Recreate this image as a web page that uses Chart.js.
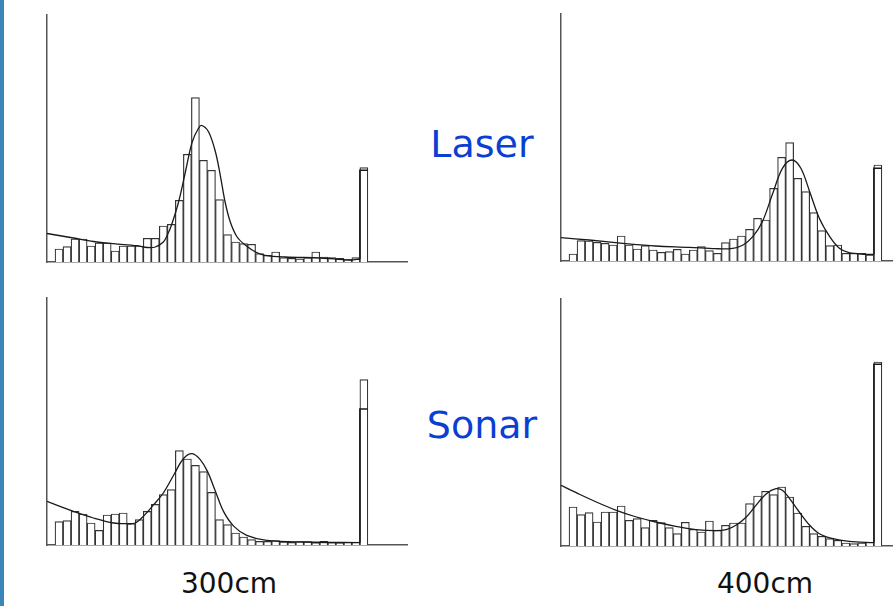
<!DOCTYPE html>
<html>
<head>
<meta charset="utf-8">
<script src="https://cdn.jsdelivr.net/npm/chart.js@4.4.1/dist/chart.umd.min.js"></script>
<style>
  html, body { margin: 0; padding: 0; background: #fff; overflow: hidden; }
  body { width: 893px; height: 606px; position: relative; font-family: "DejaVu Sans", Verdana, sans-serif; }
  .strip { position: absolute; left: 0; top: 0; width: 4px; height: 606px; background: #3a86b8; }
  .panel { position: absolute; }
  .lbl { position: absolute; white-space: nowrap; transform: translateX(-50%); }
  .blue { color: #0b3fd4; font-size: 38px; }
  .dist { color: #111; font-size: 28px; }
</style>
</head>
<body>
<div class="strip"></div>

<div class="panel" id="p-tl"><canvas id="c-tl"></canvas></div>
<div class="panel" id="p-tr"><canvas id="c-tr"></canvas></div>
<div class="panel" id="p-bl"><canvas id="c-bl"></canvas></div>
<div class="panel" id="p-br"><canvas id="c-br"></canvas></div>

<div class="lbl blue" style="left:482px; top:122px;">Laser</div>
<div class="lbl blue" style="left:482px; top:403px;">Sonar</div>
<div class="lbl dist" style="left:229px; top:567px;">300cm</div>
<div class="lbl dist" style="left:765px; top:567px;">400cm</div>

<script>
// Histogramas de distancia medida (bins 1..39, el ultimo es la lectura de rango maximo)

// Laser, 300cm
const laser300Bars = [13, 15.4, 23, 23, 16, 19, 19, 11, 16, 16, 16, 23.7, 23.7, 36, 37.7, 61.7, 107.7, 164.4, 101.7, 91.7,
    62.4, 27.4, 20, 18.4, 17.7, 8.4, 6.7, 10, 4.4, 3.7, 3, 4.4, 10, 5, 4.4, 3.7, 2.4, 4.4, 94.4];
const laser300FitX = [0, 3.3, 5.8, 8.3, 11.2, 12.5, 13.5, 14.5, 15, 15.5, 16.4, 17.25, 18.1, 18.9, 19.3, 20.15, 21, 21.6,
    22.2, 22.85, 23.7, 24.75, 26, 27.2, 29.7, 34.1, 37.8, 39];
const laser300FitY = [28.5, 24, 20.5, 18.3, 16.3, 14.5, 15, 20, 27, 36.5, 60, 90, 120, 134, 136.5, 130, 110, 86.7,
    60, 40, 25, 16.7, 10, 6.7, 5, 4, 2, 3];
const laser300Spike = 91.7;

// Sonar, 300cm
const sonar300Bars = [23.3, 24.3, 33.6, 31, 22, 14.6, 30, 31, 32, 21.3, 25.3, 33.6, 40.6, 50.3, 55.3, 94.3, 86, 79.6, 73.3,
    52.6, 25.3, 20.3, 12, 8, 5.3, 3.6, 3.6, 4.3, 3, 2.6, 3.3, 3.3, 2.3, 3.6, 2.6, 2.3, 3, 3, 165.3];
const sonar300FitX = [0, 3.3, 5.8, 8.3, 10, 11, 12, 13.3, 14.5, 15.8, 17, 18.1, 19.1, 20, 21, 22, 23.3, 24.9, 27.4, 32.4, 38.7, 39];
const sonar300FitY = [43.6, 33.6, 27, 22, 21.3, 22, 28.6, 40.3, 52, 70, 86.3, 91.3, 85.3, 73.6, 53.6, 33.6, 18.6, 9.6, 4.6, 3, 2.3, 2.3];
const sonar300Spike = 136;

// Laser, 400cm
const laser400Bars = [7, 20.3, 20, 18.7, 17.7, 16, 25, 16, 12, 15.3, 11, 8.7, 9.3, 11.7, 7, 11, 14.3, 10.3, 7.7, 18.3,
    22, 25, 31.7, 42.7, 41, 72.7, 103.7, 118.3, 82.7, 69.3, 48.3, 30.3, 15.3, 16, 7.7, 7.7, 7.7, 6, 96];
const laser400FitX = [0, 3.5, 7.7, 11.8, 16, 19.3, 21.4, 22.7, 23.9, 25.1, 26.4, 27.6, 28.8, 29.9, 31, 32.2, 33.5, 34.7, 35.9, 38, 39];
const laser400FitY = [23.3, 21, 17.7, 15, 13.7, 12.3, 12.7, 16, 24.3, 39.3, 67.7, 92.7, 101, 92.7, 69.3, 42.7, 24.3, 12.7, 8.3, 6.7, 6.5];
const laser400Spike = 92.7;

// Sonar, 400cm
const sonar400Bars = [39, 31.3, 33.3, 24, 34, 34, 40, 25.7, 27.3, 18.3, 25.7, 23.3, 18.3, 12.3, 23.7, 16.7, 14, 25, 15.7,
    20.7, 23, 23, 42.3, 50, 54.7, 51.3, 59, 49, 33, 19.7, 12.3, 9.7, 7.3, 5.7, 3, 2.3, 3, 4, 184];
const sonar400FitX = [0, 1.9, 4.4, 6.9, 9.4, 11.8, 14.3, 16.8, 19.3, 20.6, 21.8, 23.1, 24.3, 25.6, 26.8, 27.6, 28.5, 29.7,
    31, 32.2, 33.9, 35.9, 38.9, 39];
const sonar400FitY = [60.7, 53.3, 44, 35.7, 29, 24, 19.7, 16.3, 15.3, 16.3, 20.7, 29, 40.7, 52.3, 57.3, 55.7, 47.3, 34,
    20.7, 12.3, 7.3, 4.7, 3.3, 3.3];
const sonar400Spike = 181.7;

const X_MAX = 45;
const Y_MAX = 248;
const PAD = 2;

function createHistogram(id, axisX, baseY, bars, fitX, fitY, spike) {
    const plotW = 361, plotH = Y_MAX;
    const wrap = document.getElementById('p-' + id);
    wrap.style.left = (axisX - PAD) + 'px';
    wrap.style.top = (baseY - plotH) + 'px';
    const canvas = document.getElementById('c-' + id);
    canvas.width = plotW + PAD;
    canvas.height = plotH + PAD;

    const barData = bars.map((v, i) => ({ x: i + 1.5, y: v }));
    const fitData = fitX.map((x, i) => ({ x: x, y: fitY[i] }));
    const lastY = fitY[fitY.length - 1];
    const spikeData = [
        { x: 39, y: lastY },
        { x: 39, y: spike },
        { x: 40, y: spike }
    ];

    // sin ticks ni grid: que los ejes no reserven espacio
    const noGrid = { display: false, drawTicks: false, tickLength: 0 };

    new Chart(canvas.getContext('2d'), {
        data: {
            datasets: [
                {
                    type: 'line',
                    data: fitData,
                    borderColor: '#1a1a1a',
                    borderWidth: 1.3,
                    pointRadius: 0,
                    tension: 0.35,
                    order: 0
                },
                {
                    type: 'line',
                    data: spikeData,
                    borderColor: '#1a1a1a',
                    borderWidth: 1.6,
                    pointRadius: 0,
                    tension: 0,
                    order: 0
                },
                {
                    type: 'bar',
                    data: barData,
                    backgroundColor: '#ffffff',
                    borderColor: '#333',
                    borderWidth: 1.2,
                    barPercentage: 1,
                    categoryPercentage: 1,
                    order: 1
                }
            ]
        },
        options: {
            responsive: false,
            animation: false,
            devicePixelRatio: 1,
            layout: { padding: { left: PAD, bottom: PAD, top: 0, right: 0 } },
            plugins: { legend: { display: false }, tooltip: { enabled: false } },
            scales: {
                x: {
                    type: 'linear',
                    min: 0,
                    max: X_MAX,
                    offset: false,
                    grid: noGrid,
                    ticks: { display: false, padding: 0 },
                    border: { display: true, color: '#555', width: 1.5 }
                },
                y: {
                    min: 0,
                    max: Y_MAX,
                    grid: noGrid,
                    ticks: { display: false, padding: 0 },
                    border: { display: true, color: '#555', width: 1.5 }
                }
            }
        }
    });
}

createHistogram('tl', 46.7, 261.7, laser300Bars, laser300FitX, laser300FitY, laser300Spike);
createHistogram('bl', 46.7, 545.3, sonar300Bars, sonar300FitX, sonar300FitY, sonar300Spike);
createHistogram('tr', 560.5, 261, laser400Bars, laser400FitX, laser400FitY, laser400Spike);
createHistogram('br', 560.5, 545.7, sonar400Bars, sonar400FitX, sonar400FitY, sonar400Spike);
</script>
</body>
</html>
